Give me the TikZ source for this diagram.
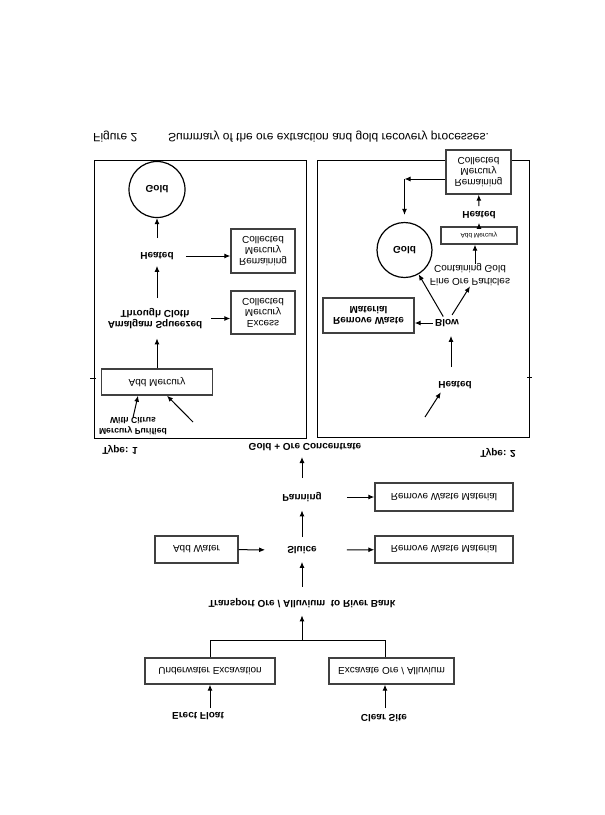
\documentclass[tikz,border=0pt]{standalone}
\usepackage{fontspec}
\setmainfont{Liberation Sans}
\usetikzlibrary{arrows.meta,calc}
\begin{document}
\begin{tikzpicture}[x=1pt,y=-1pt,
  every node/.style={yscale=-1, inner sep=0pt, align=center, font=\fontsize{10}{11}\selectfont},
  lb/.style={font=\bfseries\fontsize{10}{11}\selectfont},
  lbs/.style={font=\bfseries\fontsize{8.6}{11}\selectfont},
  tt/.style={font=\fontsize{12}{14}\selectfont},
  bx/.style 2 args={draw=black!75, line width=1.4pt, fill=white, minimum width=#1, minimum height=#2},
  circ/.style={circle, draw, line width=1.2pt, minimum size=#1, font=\bfseries\fontsize{10}{11}\selectfont},
  arr/.style={-{Latex[length=6pt,width=5pt]}, line width=1pt},
  conn/.style={line width=1pt},
  frame/.style={line width=1pt}
]
\fill[white] (0,0) rectangle (605,815);
\useasboundingbox (0,0) rectangle (605,815);

% title
\node[tt, anchor=west] (fig) at (93,137) {Figure 2};
\node[tt, anchor=west] (sum) at (168,137) {Summary of the ore extraction and gold recovery processes.};

% frames
\draw[frame] (94,160) rectangle (306,438);
\draw[frame] (317,160) rectangle (529,437);
\draw[line width=0.6pt] (90,378) -- (96,378);
\draw[line width=0.6pt] (527,377) -- (532,377);

% left panel (Type 1)
\node[circ=56pt] (LGold) at (157,189.5) {Gold};
\node[lb] (LHeat) at (157,256) {Heated};
\node[bx={64pt}{44pt}] (LRem) at (263,251) {Remaining\\Mercury\\Collected};
\node[lb] (Amal) at (155,318.5) {Amalgam Squeezed\\Through Cloth};
\node[bx={64pt}{43pt}] (LExc) at (263,312.5) {Excess\\Mercury\\Collected};
\node[bx={111pt}{26pt}] (LAdd) at (157,382) {Add Mercury};
\node[lbs] (Pur) at (133,426.5) {Mercury Purified\\With Citrus};
\coordinate (pa2) at (193,422);
\node[lb] (T1) at (120,450) {Type: 1};
\node[lb] (GOC) at (305,447) {Gold + Ore Concentrate};
\node[lb] (T2) at (498,453) {Type: 2};

% right panel (Type 2)
\node[bx={65pt}{44pt}] (RRem) at (478.5,172) {Remaining\\Mercury\\Collected};
\node[lb] (RHeat1) at (479,215) {Heated};
\node[bx={76pt}{17pt}, font=\fontsize{6.5}{7}\selectfont] (RAdd) at (479,235.5) {Add Mercury};
\node[font=\fontsize{10}{13}\selectfont] (Fine) at (470,275) {Fine Ore Particles\\Containing Gold};
\node[circ=55pt] (RGold) at (404.5,250) {Gold};
\coordinate (rc) at (404.5,179);
\node[lb] (Blow) at (447,323) {Blow};
\node[bx={91pt}{35pt}, lb] (RRW) at (368.5,315.5) {Remove Waste\\Material};
\node[lb] (RHeat2) at (455,385) {Heated};
\coordinate (pr) at (425,417);

% main flow
\node[lb] (Pan) at (302,497) {Panning};
\node[bx={138pt}{28pt}] (RW1) at (444,497) {Remove Waste Material};
\node[lb] (Slu) at (302,550) {Sluice};
\node[bx={83pt}{27pt}] (AW) at (196.5,549.5) {Add Water};
\node[bx={138pt}{27pt}] (RW2) at (444,549.5) {Remove Waste Material};
\node[lb] (Trans) at (302,603) {Transport Ore / Alluvium\ \ to River Bank};
\node[bx={130pt}{26pt}] (UW) at (210,671) {Underwater Excavation};
\node[bx={125pt}{26pt}] (EX) at (391.5,671) {Excavate Ore / Alluvium};
\node[lb] (Erect) at (198,716) {Erect Float};
\node[lb] (Clear) at (384,718) {Clear Site};
\coordinate (jl) at (210,640);
\coordinate (jr) at (385,640);
\coordinate (jm) at (302,640);

% left connectors
\draw[arr, shorten <=14pt] (LHeat) -- (LGold);
\draw[arr, shorten <=12pt] (LHeat.east) -- (LHeat.east -| LRem.west);
\draw[arr, shorten <=10pt, shorten >=6pt] (Amal.south -| LHeat) -- (LHeat);
\draw[arr, shorten <=9pt] (Amal.east) -- (Amal.east -| LExc.west);
\draw[arr, shorten >=9.5pt] (LAdd.south) -- (LAdd.south |- Amal.north);
\draw[arr] (Pur.south) -- ([xshift=-19pt]LAdd.north);
\draw[arr] (pa2) -- ([xshift=10pt]LAdd.north);

% right connectors
\draw[arr, shorten <=5pt] (RHeat1) -- (RRem);
\draw[arr, shorten >=4pt] (RAdd) -- (RHeat1);
\draw[arr] (RRem.west |- rc) -- (rc);
\draw[arr, shorten >=7pt] (rc) -- (RGold);
\draw[arr] ([xshift=5pt]Fine.south) -- ([xshift=-4pt]RAdd.north);
\draw[arr, shorten <=5pt] (Blow) -- (Fine.north);
\draw[arr, shorten <=3pt] (Blow) -- (RGold);
\draw[arr, shorten <=2pt] (Blow.west) -- (Blow.west -| RRW.east);
\draw[arr, shorten <=14pt, shorten >=9pt] ([xshift=-4pt]RHeat2.south) -- ([xshift=4pt]Blow.north);
\draw[arr, shorten >=4pt] (pr) -- ([xshift=-12pt]RHeat2.north);

% main connectors
\draw[arr, shorten <=14pt, shorten >=10pt] (Pan) -- (Pan |- GOC);
\draw[arr, shorten <=25pt] (Pan.east) -- (Pan.east -| RW1.west);
\draw[arr, shorten <=9pt, shorten >=8.5pt] (Slu) -- (Pan);
\draw[arr, shorten >=22pt] (AW) -- (Slu);
\draw[arr, shorten <=30pt] (Slu) -- (RW2);
\draw[arr, shorten <=11.5pt, shorten >=8pt] (Trans) -- (Slu);
\draw[conn] (UW.south) -- (jl) -- (jr) -- ($(EX.south)+(-6.5,0)$);
\draw[arr, shorten >=7.5pt] (jm) -- (Trans);
\draw[arr, shorten <=4pt] ($(Erect.south)+(12,0)$) -- (UW.north);
\draw[arr, shorten <=6pt] ($(Clear.south)+(1,0)$) -- ($(EX.north)+(-6.5,0)$);
\end{tikzpicture}
\end{document}
